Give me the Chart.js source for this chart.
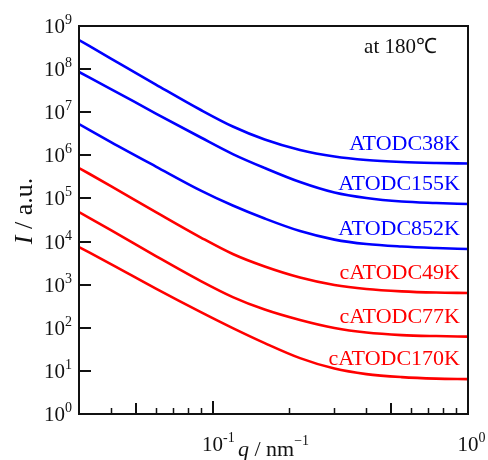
<!DOCTYPE html>
<html>
<head>
<meta charset="utf-8">
<script src="https://cdn.jsdelivr.net/npm/chart.js@4.4.1/dist/chart.umd.min.js"></script>
<style>
  html, body { margin: 0; padding: 0; background: #fff; }
  #wrap { width: 488px; height: 460px; }
</style>
</head>
<body>
<div id="wrap"><canvas id="saxsChart" width="488" height="460"></canvas></div>
<script>
// scattering vector q / nm^-1
const q = [0.03, 0.04, 0.06, 0.09, 0.12, 0.16, 0.22, 0.3, 0.4, 0.55, 0.75, 1.0];

// intensity I / a.u.
const atodc38k   = [4.73e8, 1.76e8, 4.39e7, 1.125e7, 4.66e6, 2.33e6, 1.33e6, 9.38e5, 7.78e5, 6.99e5, 6.63e5, 6.45e5];
const atodc155k  = [8.57e7, 3.45e7, 9.33e6, 2.59e6, 1.07e6, 5.08e5, 2.4e5, 1.37e5, 1.02e5, 8.47e4, 7.82e4, 7.41e4];
const atodc852k  = [5.32e6, 2.03e6, 5.5e5, 1.52e5, 6.84e4, 3.42e4, 1.75e4, 1.11e4, 8.75e3, 7.66e3, 7.07e3, 6.7e3];
const catodc49k  = [5.08e5, 1.94e5, 4.83e4, 1.24e4, 5.13e3, 2.63e3, 1.46e3, 979, 791, 699, 656, 639];
const catodc77k  = [4.83e4, 1.85e4, 4.61e3, 1.21e3, 515, 264, 151, 98.4, 77.4, 67.7, 64.2, 62.5];
const catodc170k = [7.45e3, 3.01e3, 812, 231, 98.4, 44.2, 19.8, 11.3, 8.43, 7.18, 6.63, 6.45];

const seriesNames = ["ATODC38K", "ATODC155K", "ATODC852K", "cATODC49K", "cATODC77K", "cATODC170K"];
const seriesData = [atodc38k, atodc155k, atodc852k, catodc49k, catodc77k, catodc170k];
const seriesColors = ["#0000ff", "#0000ff", "#0000ff", "#ff0000", "#ff0000", "#ff0000"];

// axis ticks
const yDecades = [1, 10, 100, 1e3, 1e4, 1e5, 1e6, 1e7, 1e8, 1e9];
const xLabelTicks = [0.1, 1];
const xMidTicks = [0.05, 0.5];
const xMinorTicks = [0.04, 0.06, 0.07, 0.08, 0.09, 0.2, 0.3, 0.4, 0.6, 0.7, 0.8, 0.9];

const SERIF = '"Liberation Serif", "Times New Roman", serif';

// "10" with a raised exponent, anchored by the "10" part
function drawPower(ctx, exp, x, y, mode) {
  ctx.font = "21px " + SERIF;
  const baseW = ctx.measureText("10").width;
  ctx.font = "14px " + SERIF;
  const supW = ctx.measureText(exp).width;
  let x0;
  if (mode === "right") x0 = x - supW - baseW;
  else x0 = x - baseW / 2;
  ctx.textAlign = "left";
  ctx.font = "21px " + SERIF;
  ctx.fillText("10", x0, y);
  ctx.font = "14px " + SERIF;
  ctx.fillText(exp, x0 + baseW, y - 9);
}

const framePlugin = {
  id: "frame",
  afterDatasetsDraw(chart) {
    const { ctx, chartArea: a } = chart;
    const xs = chart.scales.x;
    const ys = chart.scales.y;
    ctx.save();
    ctx.strokeStyle = "#111";
    ctx.fillStyle = "#111";
    ctx.lineWidth = 2;
    ctx.strokeRect(a.left, a.top, a.right - a.left, a.bottom - a.top);

    // y ticks (inside)
    ctx.beginPath();
    for (const v of yDecades) {
      const py = Math.round(ys.getPixelForValue(v));
      ctx.moveTo(a.left, py);
      ctx.lineTo(a.left + 12, py);
    }
    // x ticks (inside)
    for (const v of xLabelTicks) {
      const px = Math.round(xs.getPixelForValue(v));
      ctx.moveTo(px, a.bottom);
      ctx.lineTo(px, a.bottom - 13);
    }
    for (const v of xMidTicks) {
      const px = Math.round(xs.getPixelForValue(v));
      ctx.moveTo(px, a.bottom);
      ctx.lineTo(px, a.bottom - 11);
    }
    ctx.stroke();
    ctx.lineWidth = 1.5;
    ctx.beginPath();
    for (const v of xMinorTicks) {
      const px = Math.round(xs.getPixelForValue(v)) + 0.5;
      ctx.moveTo(px, a.bottom);
      ctx.lineTo(px, a.bottom - 6);
    }
    ctx.stroke();

    // tick labels
    ctx.textBaseline = "alphabetic";
    for (const v of yDecades) {
      const py = ys.getPixelForValue(v);
      drawPower(ctx, String(Math.round(Math.log10(v))), a.left - 7, py + 7, "right");
    }
    for (const v of xLabelTicks) {
      const px = xs.getPixelForValue(v);
      const e = Math.round(Math.log10(v));
      drawPower(ctx, e < 0 ? "-" + (-e) : String(e), px, a.bottom + 37, "center");
    }

    // x title: q / nm^-1
    const cx = (a.left + a.right) / 2;
    ctx.font = "italic 22px " + SERIF;
    const wq = ctx.measureText("q").width;
    ctx.font = "22px " + SERIF;
    const wrest = ctx.measureText(" / nm").width;
    ctx.font = "14px " + SERIF;
    const wsup = ctx.measureText("\u22121").width;
    let tx = cx - (wq + wrest + wsup) / 2;
    const ty = a.bottom + 42;
    ctx.textAlign = "left";
    ctx.font = "italic 22px " + SERIF;
    ctx.fillText("q", tx, ty);
    ctx.font = "22px " + SERIF;
    ctx.fillText(" / nm", tx + wq, ty);
    ctx.font = "14px " + SERIF;
    ctx.fillText("\u22121", tx + wq + wrest, ty - 11);

    // y title: I / a.u.
    ctx.save();
    ctx.translate(32, (a.top + a.bottom) / 2 - 9);
    ctx.rotate(-Math.PI / 2);
    ctx.font = "italic 26px " + SERIF;
    const wi = ctx.measureText("I").width;
    ctx.font = "26px " + SERIF;
    const wr = ctx.measureText(" / a.u.").width;
    let sx = -(wi + wr) / 2;
    ctx.font = "italic 26px " + SERIF;
    ctx.fillText("I", sx, 0);
    ctx.font = "26px " + SERIF;
    ctx.fillText(" / a.u.", sx + wi, 0);
    ctx.restore();

    // temperature note
    ctx.textAlign = "right";
    ctx.font = "21px " + SERIF;
    ctx.fillText("at 180\u2103", a.right - 31, a.top + 27);

    // series labels above the plateau of each curve
    ctx.font = "22px " + SERIF;
    seriesData.forEach((vals, i) => {
      ctx.fillStyle = seriesColors[i];
      const py = ys.getPixelForValue(vals[vals.length - 1]);
      ctx.fillText(seriesNames[i], a.right - 8, py - 14);
    });
    ctx.restore();
  }
};

const ctx = document.getElementById("saxsChart").getContext("2d");

const saxsChart = new Chart(ctx, {
  type: "line",
  data: {
    datasets: seriesData.map((vals, i) => ({
      label: seriesNames[i],
      data: vals.map((v, j) => ({ x: q[j], y: v })),
      borderColor: seriesColors[i],
      borderWidth: 2.6,
      pointRadius: 0,
      cubicInterpolationMode: "monotone",
      fill: false,
    })),
  },
  options: {
    responsive: false,
    animation: false,
    devicePixelRatio: 1,
    layout: { padding: { left: 79, top: 26, right: 20, bottom: 46 } },
    scales: {
      x: { type: "logarithmic", min: 0.03, max: 1, display: false },
      y: { type: "logarithmic", min: 1, max: 1e9, display: false },
    },
    plugins: {
      legend: { display: false },
      tooltip: { enabled: false },
    },
  },
  plugins: [framePlugin],
});
</script>
</body>
</html>
